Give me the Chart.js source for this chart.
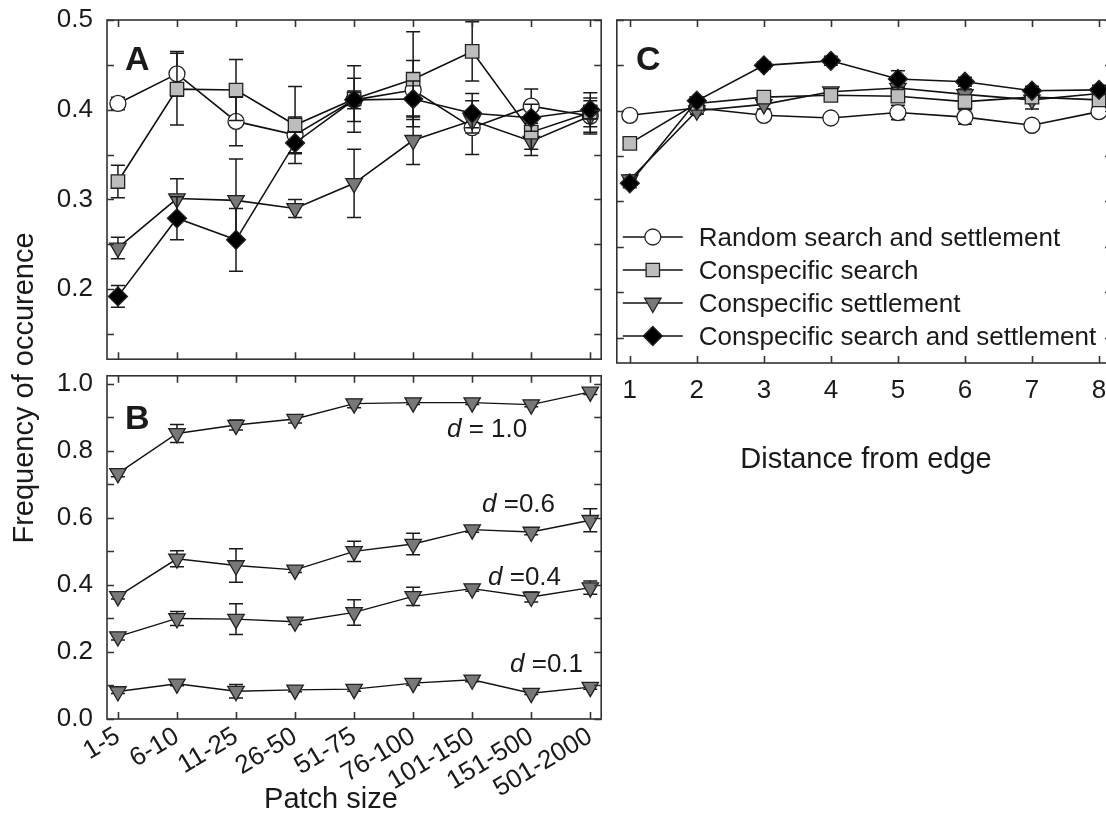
<!DOCTYPE html>
<html>
<head>
<meta charset="utf-8">
<script src="https://cdn.jsdelivr.net/npm/chart.js@4.4.1/dist/chart.umd.min.js"></script>
<style>
  html, body { margin: 0; padding: 0; background: #fff; overflow: hidden; }
  body { width: 1106px; height: 825px; position: relative; font-family: "Liberation Sans", Arial, Helvetica, sans-serif; color: #1a1a1a; }
  canvas { position: absolute; }
  .txt { position: absolute; white-space: nowrap; line-height: 1; }
  .panel { font-weight: bold; font-size: 34px; }
  .title { font-size: 29px; }
  .note { font-size: 26px; }
</style>
</head>
<body>
<canvas id="chartA" width="612" height="370" style="left:0;top:0"></canvas>
<canvas id="chartB" width="612" height="460" style="left:0;top:365px"></canvas>
<canvas id="chartC" width="520" height="480" style="left:606px;top:0"></canvas>

<div class="txt panel" style="left:125px;top:41px">A</div>
<div class="txt panel" style="left:125px;top:400px">B</div>
<div class="txt panel" style="left:636px;top:41px">C</div>

<div class="txt note" style="left:447px;top:415px"><i>d</i> = 1.0</div>
<div class="txt note" style="left:482px;top:490px"><i>d</i> =0.6</div>
<div class="txt note" style="left:488px;top:563px"><i>d</i> =0.4</div>
<div class="txt note" style="left:510px;top:650px"><i>d</i> =0.1</div>

<div class="txt title" style="left:131px;top:784px;width:400px;text-align:center">Patch size</div>
<div class="txt title" style="left:666px;top:444px;width:400px;text-align:center">Distance from edge</div>
<div class="txt title" style="left:-177px;top:373px;width:400px;height:30px;text-align:center;line-height:30px;transform:rotate(-90deg)">Frequency of occurence</div>

<script>
// categories
const patchSizes = ["1-5", "6-10", "11-25", "26-50", "51-75", "76-100", "101-150", "151-500", "501-2000"];
const distances = [1, 2, 3, 4, 5, 6, 7, 8];
const legendLabels = ["Random search and settlement", "Conspecific search", "Conspecific settlement", "Conspecific search and settlement"];

// panel A (by patch size)
const randomA = [0.407, 0.440, 0.387, 0.372, 0.411, 0.422, 0.380, 0.404, 0.393];
const randomAErr = [0.007, 0.025, 0.027, 0.020, 0.024, 0.033, 0.030, 0.019, 0.012];
const searchA = [0.320, 0.423, 0.422, 0.383, 0.412, 0.434, 0.465, 0.375, 0.397];
const searchAErr = [0.018, 0.040, 0.034, 0.043, 0.037, 0.053, 0.033, 0.019, 0.022];
const settleA = [0.246, 0.301, 0.299, 0.290, 0.318, 0.366, 0.388, 0.365, 0.393];
const settleAErr = [0.012, 0.022, 0.046, 0.010, 0.038, 0.027, 0.008, 0.016, 0.020];
const bothA = [0.192, 0.279, 0.255, 0.363, 0.411, 0.412, 0.396, 0.391, 0.400];
const bothAErr = [0.012, 0.024, 0.035, 0.012, 0.010, 0.020, 0.022, 0.015, 0.010];

// panel B (conspecific settlement, by dispersal d)
const d10 = [0.733, 0.852, 0.877, 0.895, 0.941, 0.944, 0.944, 0.938, 0.976];
const d10Err = [0.010, 0.027, 0.015, 0.012, 0.012, 0.006, 0.006, 0.006, 0.008];
const d06 = [0.366, 0.478, 0.458, 0.445, 0.500, 0.522, 0.565, 0.558, 0.593];
const d06Err = [0.008, 0.024, 0.050, 0.008, 0.030, 0.032, 0.008, 0.008, 0.034];
const d04 = [0.246, 0.300, 0.298, 0.290, 0.318, 0.366, 0.389, 0.364, 0.392];
const d04Err = [0.010, 0.021, 0.046, 0.008, 0.038, 0.027, 0.008, 0.015, 0.020];
const d01 = [0.082, 0.105, 0.083, 0.087, 0.089, 0.107, 0.117, 0.077, 0.095];
const d01Err = [0.006, 0.006, 0.020, 0.006, 0.006, 0.006, 0.006, 0.004, 0.006];

// panel C (by distance from edge)
const randomC = [0.395, 0.403, 0.395, 0.392, 0.398, 0.393, 0.384, 0.399];
const randomCErr = [0.005, 0.004, 0.005, 0.004, 0.008, 0.008, 0.004, 0.005];
const searchC = [0.364, 0.408, 0.415, 0.417, 0.416, 0.410, 0.415, 0.412];
const searchCErr = [0.005, 0.004, 0.004, 0.004, 0.005, 0.005, 0.005, 0.006];
const settleC = [0.324, 0.400, 0.407, 0.421, 0.425, 0.418, 0.412, 0.419];
const settleCErr = [0.005, 0.004, 0.005, 0.004, 0.006, 0.006, 0.010, 0.006];
const bothC = [0.320, 0.411, 0.450, 0.455, 0.435, 0.432, 0.422, 0.423];
const bothCErr = [0.005, 0.004, 0.004, 0.005, 0.009, 0.005, 0.005, 0.005];

// tick values
const patchTicks = [0, 1, 2, 3, 4, 5, 6, 7, 8];
const freqTicksTop = [0.15, 0.2, 0.25, 0.3, 0.35, 0.4, 0.45, 0.5];
const freqTicksB = [0, 0.1, 0.2, 0.3, 0.4, 0.5, 0.6, 0.7, 0.8, 0.9, 1.0];

const FONT = '"Liberation Sans", Arial, Helvetica, sans-serif';
const INK = "#1a1a1a";
Chart.defaults.font.family = FONT;
Chart.defaults.color = INK;

const markers = {
  random: { shape: "circle", r: 8, rot: 0, fill: "#ffffff", order: 4 },
  search: { shape: "rect", r: 9.5, rot: 0, fill: "#bdbdbd", order: 2 },
  settle: { shape: "triangle", r: 9.5, rot: 180, fill: "#787878", order: 3 },
  both: { shape: "rectRot", r: 9.5, rot: 0, fill: "#000000", order: 1 },
};

function series(label, xs, values, errors, m, lineWidth) {
  return {
    label: label,
    errors: errors,
    data: values.map((v, i) => ({ x: xs[i], y: v })),
    borderColor: "#111",
    borderWidth: lineWidth || 1.6,
    pointStyle: m.shape,
    pointRadius: m.r,
    pointRotation: m.rot,
    pointBackgroundColor: m.fill,
    pointBorderColor: "#222",
    pointBorderWidth: 1.3,
    order: m.order,
    tension: 0,
    fill: false,
  };
}

// error bars under each dataset's own markers
const errorBars = {
  id: "errorBars",
  beforeDatasetDraw(chart, args) {
    const ds = chart.data.datasets[args.index];
    if (!ds.errors) return;
    const ctx = chart.ctx;
    const xs = chart.scales.x, ys = chart.scales.y;
    ctx.save();
    ctx.strokeStyle = "#1a1a1a";
    ctx.lineWidth = 1.5;
    ctx.beginPath();
    ds.data.forEach((p, i) => {
      const e = ds.errors[i];
      if (!e) return;
      const px = xs.getPixelForValue(p.x);
      const top = ys.getPixelForValue(p.y + e);
      const bot = ys.getPixelForValue(p.y - e);
      ctx.moveTo(px, top); ctx.lineTo(px, bot);
      ctx.moveTo(px - 7, top); ctx.lineTo(px + 7, top);
      ctx.moveTo(px - 7, bot); ctx.lineTo(px + 7, bot);
    });
    ctx.stroke();
    ctx.restore();
  },
};

// box around the plot with inward ticks on all four sides
const frame = {
  id: "frame",
  afterDatasetsDraw(chart, args, opts) {
    const ctx = chart.ctx, a = chart.chartArea;
    const xs = chart.scales.x, ys = chart.scales.y;
    const len = 7;
    ctx.save();
    ctx.strokeStyle = "#333";
    ctx.lineWidth = 1.6;
    ctx.strokeRect(a.left, a.top, a.right - a.left, a.bottom - a.top);
    ctx.beginPath();
    (opts.xTicks || []).forEach(v => {
      const px = Math.round(xs.getPixelForValue(v)) + 0.5;
      ctx.moveTo(px, a.top); ctx.lineTo(px, a.top + len);
      ctx.moveTo(px, a.bottom); ctx.lineTo(px, a.bottom - len);
    });
    (opts.yTicks || []).forEach(v => {
      const py = Math.round(ys.getPixelForValue(v)) + 0.5;
      ctx.moveTo(a.left, py); ctx.lineTo(a.left + len, py);
      ctx.moveTo(a.right, py); ctx.lineTo(a.right - len, py);
    });
    ctx.stroke();
    ctx.restore();
  },
};

// legend drawn inside panel C: line - marker - line, then the label
const lineLegend = {
  id: "lineLegend",
  afterDraw(chart, args, opts) {
    if (!opts.show) return;
    const ctx = chart.ctx, a = chart.chartArea;
    ctx.save();
    chart.data.datasets.forEach((ds, i) => {
      const y = opts.top + i * opts.gap;
      const x0 = a.left + opts.lineStart, x1 = x0 + opts.lineLength;
      ctx.strokeStyle = "#111";
      ctx.lineWidth = 1.6;
      ctx.beginPath(); ctx.moveTo(x0, y); ctx.lineTo(x1, y); ctx.stroke();
      ctx.fillStyle = ds.pointBackgroundColor;
      ctx.strokeStyle = ds.pointBorderColor;
      ctx.lineWidth = ds.pointBorderWidth;
      Chart.helpers.drawPoint(ctx, {
        pointStyle: ds.pointStyle, radius: ds.pointRadius,
        rotation: ds.pointRotation, borderWidth: ds.pointBorderWidth,
      }, (x0 + x1) / 2, y);
      ctx.fillStyle = INK;
      ctx.font = "26px " + FONT;
      ctx.textBaseline = "alphabetic";
      ctx.textAlign = "left";
      ctx.fillText(ds.label, x1 + opts.textGap, y + 9);
    });
    ctx.restore();
  },
};

const tickFont = { family: FONT, size: 26 };
const noGrid = { display: false, drawTicks: false };
const noBorder = { display: false };

// fix the axis size and drop the label overhang padding so the plot box stays where it is put
function fixY(width) {
  return axis => { axis.width = width; axis.paddingTop = 0; axis.paddingBottom = 0; };
}
function fixX(height) {
  return axis => { axis.height = height; axis.paddingLeft = 0; axis.paddingRight = 0; };
}

function oneDecimal(step) {
  return v => (Math.round(v * 100) % Math.round(step * 100) === 0 ? v.toFixed(1) : "");
}

const baseOptions = {
  responsive: false,
  animation: false,
  events: [],
};

// panel A
new Chart(document.getElementById("chartA"), {
  type: "line",
  data: {
    datasets: [
      series(legendLabels[0], patchTicks, randomA, randomAErr, markers.random),
      series(legendLabels[1], patchTicks, searchA, searchAErr, markers.search),
      series(legendLabels[2], patchTicks, settleA, settleAErr, markers.settle),
      series(legendLabels[3], patchTicks, bothA, bothAErr, markers.both),
    ],
  },
  options: {
    ...baseOptions,
    layout: { padding: { top: 20, right: 8, bottom: 8, left: 0 } },
    plugins: {
      legend: { display: false },
      tooltip: { enabled: false },
      frame: { xTicks: patchTicks, yTicks: freqTicksTop },
    },
    scales: {
      x: { type: "linear", min: -0.185, max: 8.185, display: false },
      y: {
        type: "linear", min: 0.122, max: 0.5, bounds: "data",
        grid: noGrid, border: noBorder,
        afterBuildTicks: axis => { axis.ticks = freqTicksTop.map(v => ({ value: v })); },
        afterFit: fixY(107),
        ticks: { font: tickFont, color: INK, padding: 14, autoSkip: false, callback: oneDecimal(0.1) },
      },
    },
  },
  plugins: [errorBars, frame],
});

// panel B
const triB = { ...markers.settle, order: 1 };
new Chart(document.getElementById("chartB"), {
  type: "line",
  data: {
    datasets: [
      series("d = 1.0", patchTicks, d10, d10Err, triB, 1.4),
      series("d = 0.6", patchTicks, d06, d06Err, triB, 1.4),
      series("d = 0.4", patchTicks, d04, d04Err, triB, 1.4),
      series("d = 0.1", patchTicks, d01, d01Err, triB, 1.4),
    ],
  },
  options: {
    ...baseOptions,
    layout: { padding: { top: 10, right: 8, bottom: 0, left: 0 } },
    plugins: {
      legend: { display: false },
      tooltip: { enabled: false },
      frame: { xTicks: patchTicks, yTicks: freqTicksB },
    },
    scales: {
      x: {
        type: "linear", min: -0.185, max: 8.185, bounds: "data",
        grid: noGrid, border: noBorder,
        afterBuildTicks: axis => { axis.ticks = patchTicks.map(v => ({ value: v })); },
        afterFit: fixX(106),
        ticks: {
          font: tickFont, color: INK, padding: 2, autoSkip: false,
          minRotation: 31, maxRotation: 31,
          callback: v => patchSizes[v],
        },
      },
      y: {
        type: "linear", min: 0, max: 1.024, bounds: "data",
        grid: noGrid, border: noBorder,
        afterBuildTicks: axis => { axis.ticks = freqTicksB.map(v => ({ value: v })); },
        afterFit: fixY(107),
        ticks: { font: tickFont, color: INK, padding: 14, autoSkip: false, callback: oneDecimal(0.2) },
      },
    },
  },
  plugins: [errorBars, frame],
});

// panel C
new Chart(document.getElementById("chartC"), {
  type: "line",
  data: {
    datasets: [
      series(legendLabels[0], distances, randomC, randomCErr, markers.random),
      series(legendLabels[1], distances, searchC, searchCErr, markers.search),
      series(legendLabels[2], distances, settleC, settleCErr, markers.settle),
      series(legendLabels[3], distances, bothC, bothCErr, markers.both),
    ],
  },
  options: {
    ...baseOptions,
    layout: { padding: { top: 20, right: 14, bottom: 0, left: 10 } },
    plugins: {
      legend: { display: false },
      tooltip: { enabled: false },
      frame: { xTicks: distances, yTicks: freqTicksTop },
      lineLegend: { show: true, top: 237, gap: 33, lineStart: 6, lineLength: 60, textGap: 16 },
    },
    scales: {
      x: {
        type: "linear", min: 0.806, max: 8.194, bounds: "data",
        grid: noGrid, border: noBorder,
        afterBuildTicks: axis => { axis.ticks = distances.map(v => ({ value: v })); },
        afterFit: fixX(117),
        ticks: { font: tickFont, color: INK, padding: 12, autoSkip: false, maxRotation: 0, callback: v => String(v) },
      },
      y: { type: "linear", min: 0.122, max: 0.5, display: false },
    },
  },
  plugins: [errorBars, frame, lineLegend],
});
</script>
</body>
</html>
